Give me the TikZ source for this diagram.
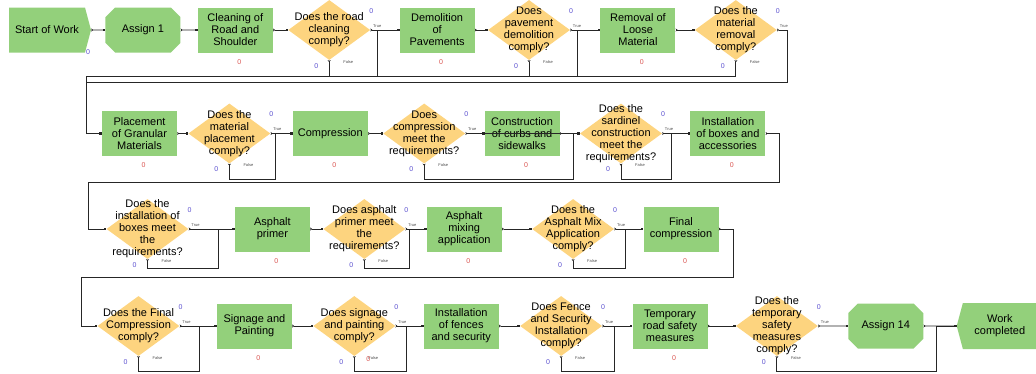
\documentclass[tikz,border=0pt]{standalone}
\usepackage{fontspec}
\setmainfont{Liberation Sans}
\usepackage{tikz}
\usetikzlibrary{arrows.meta,positioning,shapes.geometric,shapes.symbols,shapes.misc}
\definecolor{procgreen}{HTML}{93D07B}
\definecolor{decyellow}{HTML}{FDD47F}
\definecolor{cntblue}{HTML}{5A4FCF}
\definecolor{cntred}{HTML}{D9534F}
\definecolor{wire}{HTML}{262626}

\begin{document}
\begin{tikzpicture}[x=1pt,y=-1pt,
  font=\fontsize{11}{12}\selectfont,
  proc/.style={rectangle,fill=procgreen,minimum width=75pt,minimum height=45pt,align=center,inner sep=1pt},
  dec/.style={diamond,fill=decyellow,minimum width=82pt,minimum height=60pt,inner sep=0pt,
    label={[cntb,xshift=42pt,yshift=19pt]center:0},
    label={[cntb,xshift=-13pt,yshift=-36pt]center:0},
    label={[tflab,xshift=19pt,yshift=-32pt]center:False},
    label={[tflab,xshift=48pt,yshift=4pt]center:True}},
  qtext/.style={align=center,inner sep=0pt},
  counted/.style={label={[cntr,xshift=4pt,yshift=-32pt]center:0}},
  cntb/.style={text=cntblue,font=\fontsize{7}{7}\selectfont,inner sep=0pt},
  cntr/.style={text=cntred,font=\fontsize{7}{7}\selectfont,inner sep=0pt},
  tflab/.style={text=black!70,font=\fontsize{4}{4}\selectfont,inner sep=0pt},
  create/.style={signal,signal to=east,signal pointer angle=150,fill=procgreen,minimum width=82pt,minimum height=45pt,inner sep=1pt},
  dispose/.style={signal,signal to=west,signal pointer angle=150,fill=procgreen,minimum width=80pt,minimum height=46pt,inner sep=1pt,align=center},
  assign/.style={chamfered rectangle,chamfered rectangle xsep=12pt,fill=procgreen,minimum width=75pt,minimum height=45pt,inner sep=1pt},
  con/.style={wire,line width=0.9pt,{Stealth[reversed,length=2pt,width=3pt]}-{Square[length=2.5pt,width=2.5pt]}},
  wireline/.style={wire,line width=0.9pt}
]
\useasboundingbox (0,0) rectangle (1036,373);

\node[create,label={[cntb,xshift=41pt,yshift=-22pt]center:0}] (start) at (47,30) {Start of Work};
\node[assign,right=14pt of start] (asg1) {Assign 1};
\node[proc,counted,right=17pt of asg1] (clean) {Cleaning of\\Road and\\Shoulder};
\node[dec,right=15pt of clean] (d1) {};
\node[qtext] (d1q) at (d1) {Does the road\\cleaning\\comply?};
\node[proc,counted,right=29pt of d1] (demol) {Demolition\\of\\Pavements};
\node[dec,right=13pt of demol] (d2) {};
\node[qtext] (d2q) at (d2) {Does\\pavement\\demolition\\comply?};
\node[proc,counted,right=30pt of d2] (remov) {Removal of\\Loose\\Material};
\node[dec,right=19pt of remov] (d3) {};
\node[qtext] (d3q) at (d3) {Does the\\material\\removal\\comply?};

\node[proc,counted] (place) at (139.5,133.5) {Placement\\of Granular\\Materials};
\node[dec,right=11pt of place] (d4) {};
\node[qtext] (d4q) at (d4) {Does the\\material\\placement\\comply?};
\node[proc,counted,right=22pt of d4] (comp) {Compression};
\node[dec,right=15pt of comp] (d5) {};
\node[qtext] (d5q) at (d5) {Does\\compression\\meet the\\requirements?};
\node[proc,counted,right=19pt of d5] (curb) {Construction\\of curbs and\\sidewalks};
\node[dec,right=20pt of curb] (d6) {};
\node[qtext] (d6q) at (d6) {Does the\\sardinel\\construction\\meet the\\requirements?};
\node[proc,counted,right=28pt of d6] (boxes) {Installation\\of boxes and\\accessories};

\node[dec] (d7) at (147.5,229) {};
\node[qtext] (d7q) at (d7) {Does the\\installation of\\boxes meet\\the\\requirements?};
\node[proc,counted,right=46pt of d7] (primer) {Asphalt\\primer};
\node[dec,right=13pt of primer] (d8) {};
\node[qtext] (d8q) at (d8) {Does asphalt\\primer meet\\the\\requirements?};
\node[proc,counted,right=21pt of d8] (mix) {Asphalt\\mixing\\application};
\node[dec,right=30pt of mix] (d9) {};
\node[qtext] (d9q) at (d9) {Does the\\Asphalt Mix\\Application\\comply?};
\node[proc,counted,right=29pt of d9] (fcomp) {Final\\compression};

\node[dec] (d11) at (138.5,326) {};
\node[qtext] (d11q) at (d11) {Does the Final\\Compression\\comply?};
\node[proc,counted,right=37pt of d11] (sign) {Signage and\\Painting};
\node[dec,right=21pt of sign] (d12) {};
\node[qtext] (d12q) at (d12) {Does signage\\and painting\\comply?};
\node[proc,right=28pt of d12,label={[cntr,xshift=-93pt,yshift=-33pt]center:0}] (fence) {Installation\\of fences\\and security};
\node[dec,right=21pt of fence] (d13) {};
\node[qtext] (d13q) at (d13) {Does Fence\\and Security\\Installation\\comply?};
\node[proc,counted,right=30pt of d13] (temp) {Temporary\\road safety\\measures};
\node[dec,right=28pt of temp] (d14) {};
\node[qtext] (d14q) at (d14) {Does the\\temporary\\safety\\measures\\comply?};
\node[assign,right=30pt of d14] (asg14) {Assign 14};
\node[dispose,right=33pt of asg14] (done) {Work\\completed};

\coordinate (k1) at (86,76);
\coordinate (t3) at (787,82);
\coordinate (j1) at (377,76);
\coordinate (j2) at (577,76);
\coordinate (j4) at (275,179);
\coordinate (j5) at (573,179);
\coordinate (j6) at (671,179);
\coordinate (t6) at (779,182);
\coordinate (k2) at (88,182);
\coordinate (j7) at (218,268);
\coordinate (j8) at (409,268);
\coordinate (j9) at (625,268);
\coordinate (t9) at (733,277);
\coordinate (k3) at (81,277);
\coordinate (j11) at (199,371);
\coordinate (j12) at (406,371);
\coordinate (j13) at (614,371);
\coordinate (j14) at (936,371);

\draw[con] (start) -- (asg1);
\draw[con] (asg1) -- (clean);
\draw[con] (clean) -- (d1);
\draw[con] (d1) -- (demol);
\draw[con] (demol) -- (d2);
\draw[con] (d2) -- (remov);
\draw[con] (remov) -- (d3);
\draw[con] (d1.south) |- (j1) |- (demol.west);
\draw[con] (d2.south) |- (j2) |- (remov.west);
\draw[con] (d3.south) |- (k1) |- (place.west);
\draw[con] (d3.east) -| (t3) -- (t3 -| k1) |- (place.west);

\draw[con] (place) -- (d4);
\draw[con] (d4) -- (comp);
\draw[con] (comp) -- (d5);
\draw[con] (d5) -- (curb);
\draw[wireline] (curb.west) -- (curb.east);
\draw[con] (curb) -- (d6);
\draw[con] (d6) -- (boxes);
\draw[con] (d4.south) |- (j4) |- (comp.west);
\draw[con] (d5.south) |- (j5) |- (d6.west);
\draw[con] (d6.south) |- (j6) |- (boxes.west);
\draw[con] (boxes.east) -| (t6) -- (t6 -| k2) |- (d7.west);

\draw[con] (d7) -- (primer);
\draw[con] (primer) -- (d8);
\draw[con] (d8) -- (mix);
\draw[con] (mix) -- (d9);
\draw[con] (d9) -- (fcomp);
\draw[con] (d7.south) |- (j7) |- (primer.west);
\draw[con] (d8.south) |- (j8) |- (mix.west);
\draw[con] (d9.south) |- (j9) |- (fcomp.west);
\draw[con] (fcomp.east) -| (t9) -- (t9 -| k3) |- (d11.west);

\draw[con] (d11) -- (sign);
\draw[con] (sign) -- (d12);
\draw[con] (d12) -- (fence);
\draw[con] (fence) -- (d13);
\draw[con] (d13) -- (temp);
\draw[con] (temp) -- (d14);
\draw[con] (d14) -- (asg14);
\draw[con] (asg14) -- (done);
\draw[con] (d11.south) |- (j11) |- (sign.west);
\draw[con] (d12.south) |- (j12) |- (fence.west);
\draw[con] (d13.south) |- (j13) |- (temp.west);
\draw[con] (d14.south) |- (j14) |- (done);
\end{tikzpicture}
\end{document}
